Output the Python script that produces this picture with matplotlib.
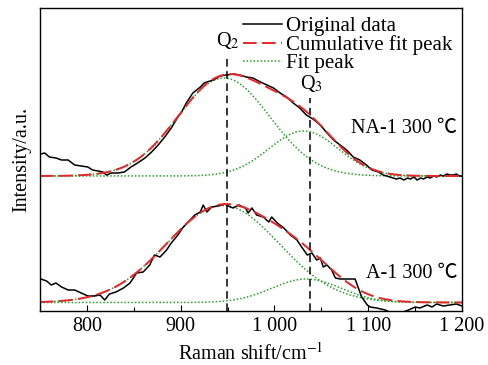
import numpy as np
import matplotlib
matplotlib.use("Agg")
import matplotlib.pyplot as plt
from matplotlib.ticker import FixedLocator, MultipleLocator, FuncFormatter
from matplotlib.lines import Line2D

plt.rcParams['font.family'] = ['Liberation Serif', 'Noto Sans CJK SC', 'DejaVu Sans']
plt.rcParams['mathtext.fontset'] = 'stix'

# ---- data (arbitrary intensity units) ----
na_x = [751, 755, 760, 767, 773, 780, 787, 794, 801, 806, 812, 817, 821, 826, 833, 840,
        847, 854, 862, 869, 876, 883, 890, 897, 901, 906, 913, 921, 925, 928, 935, 942,
        949, 956, 963, 970, 977, 985, 992, 999, 1006, 1013, 1020, 1027, 1034, 1041, 1049,
        1056, 1063, 1070, 1077, 1084, 1091, 1098, 1104, 1111, 1116, 1123, 1130, 1134, 1138,
        1142, 1145, 1149, 1152, 1156, 1159, 1163, 1166, 1170, 1173, 1177, 1180, 1184, 1187,
        1191, 1194, 1197, 1200]
na_y = [157, 158, 154, 153, 151, 151, 146, 145, 144, 141, 140, 139, 136, 138, 138, 139,
        144, 148, 153, 159, 166, 174, 183, 194, 199, 208, 218, 224, 228, 229, 231, 235,
        236, 237, 236, 234, 233, 229, 226, 223, 218, 214, 208, 203, 196, 192, 186,
        178, 171, 166, 161, 154, 151, 146, 141, 139, 136, 134, 132, 133, 131,
        133, 132, 134, 131, 133, 132, 134, 133, 135, 134, 136, 135, 137, 136,
        136, 137, 135, 135]

a_x = [751, 757, 762, 767, 773, 780, 787, 794, 801, 808, 814, 817, 819, 824, 831, 839,
       846, 853, 860, 867, 872, 878, 885, 890, 897, 902, 905, 910, 915, 921, 924, 928,
       933, 940, 947, 953, 956, 962, 969, 972, 976, 981, 988, 994, 997, 1003, 1010,
       1017, 1024, 1029, 1035, 1040, 1045, 1049, 1052, 1056, 1061, 1065, 1070, 1086,
       1093, 1099, 1102, 1109, 1118, 1125, 1134, 1143, 1150, 1155, 1163, 1168, 1173,
       1180, 1187, 1194, 1200]
a_y = [32, 30, 26, 28, 24, 21, 21, 18, 15, 15, 16, 13, 11, 17, 19, 23,
       28, 38, 39, 46, 56, 54, 61, 68, 76, 83, 86, 91, 96, 99, 106, 99,
       104, 105, 107, 104, 103, 106, 103, 98, 103, 96, 94, 89, 94, 88, 83,
       76, 71, 64, 56, 58, 51, 53, 44, 46, 41, 33, 32, 32,
       14, 6, 4, 3, 1, -2, -2, 1, 4, 3, 6, 4, 7,
       5, 6, 7, 5]

# Gaussian fit peaks: (centre, height, sigma), baselines
na_base = 135
na_peaks = [(946, 98, 49), (1031, 45, 37)]
a_base = 8.5
a_peaks = [(945, 97, 60), (1034, 23.5, 37)]

q_lines = [949, 1038]
q_tops = [256, 213]
q_labels = ['Q$_2$', 'Q$_3$']
sample_labels = ['NA-1 300 \u2103', 'A-1 300 \u2103']

xticks = [800, 900, 1000, 1100, 1200]

# ---- figure ----
fig = plt.figure(figsize=(4.89, 3.65), dpi=100)
ax = fig.add_axes([40/489, 1-311/365, 422/489, 303/365])

xs = np.linspace(750, 1200, 600)
red = '#e8262a'
green = '#2ca02c'
red_ls = (0, (7, 2.8))
green_ls = (0, (1, 1.3))

def gauss(x, c, h, s):
    return h * np.exp(-(x - c) ** 2 / (2 * s ** 2))

for base, peaks, dx, dy in [(na_base, na_peaks, na_x, na_y), (a_base, a_peaks, a_x, a_y)]:
    comps = [base + gauss(xs, *p) for p in peaks]
    for c in comps:
        ax.plot(xs, c, color=green, lw=1.1, ls=green_ls)
    cum = base + sum(gauss(xs, *p) for p in peaks)
    ax.plot(dx, dy, color='black', lw=1.1)
    ax.plot(xs, cum, color=red, lw=1.4, ls=red_ls)

for xq, top, lab in zip(q_lines, q_tops, q_labels):
    ax.plot([xq, xq], [0, top], color='black', lw=1.1, ls=(0, (5, 3)))
    ax.text(xq + 1, top + 4, lab, ha='center', va='bottom', fontsize=14.5)

ax.text(1195, 183, sample_labels[0], ha='right', va='center', fontsize=14.5)
ax.text(1195, 38, sample_labels[1], ha='right', va='center', fontsize=14.5)

ax.set_xlim(750, 1200)
ax.set_ylim(0, 303)
ax.xaxis.set_major_locator(FixedLocator(xticks))
ax.xaxis.set_minor_locator(MultipleLocator(50))
ax.xaxis.set_major_formatter(FuncFormatter(
    lambda v, p: f"{int(v):,}".replace(',', ' ')))
ax.tick_params(axis='x', which='major', direction='in', length=4.5, width=0.8,
               labelsize=14.5, pad=4)
ax.tick_params(axis='x', which='minor', direction='in', length=2.6, width=0.8)
ax.set_yticks([])
for sp in ax.spines.values():
    sp.set_linewidth(1.0)

ax.set_xlabel('Raman shift/cm$^{-1}$', fontsize=14.5, labelpad=5)
ax.set_ylabel('Intensity/a.u.', fontsize=14.5, labelpad=6)

handles = [Line2D([], [], color='black', lw=1.1),
           Line2D([], [], color=red, lw=1.4, ls=red_ls),
           Line2D([], [], color=green, lw=1.1, ls=green_ls)]
leg = ax.legend(handles, ['Original data', 'Cumulative fit peak', 'Fit peak'],
                loc='upper left', bbox_to_anchor=(203/422, 0.972), frameon=False,
                fontsize=15, handlelength=1.87, handletextpad=0.2,
                labelspacing=-0.05, borderaxespad=0, borderpad=0)

fig.savefig('out.png', dpi=100)
